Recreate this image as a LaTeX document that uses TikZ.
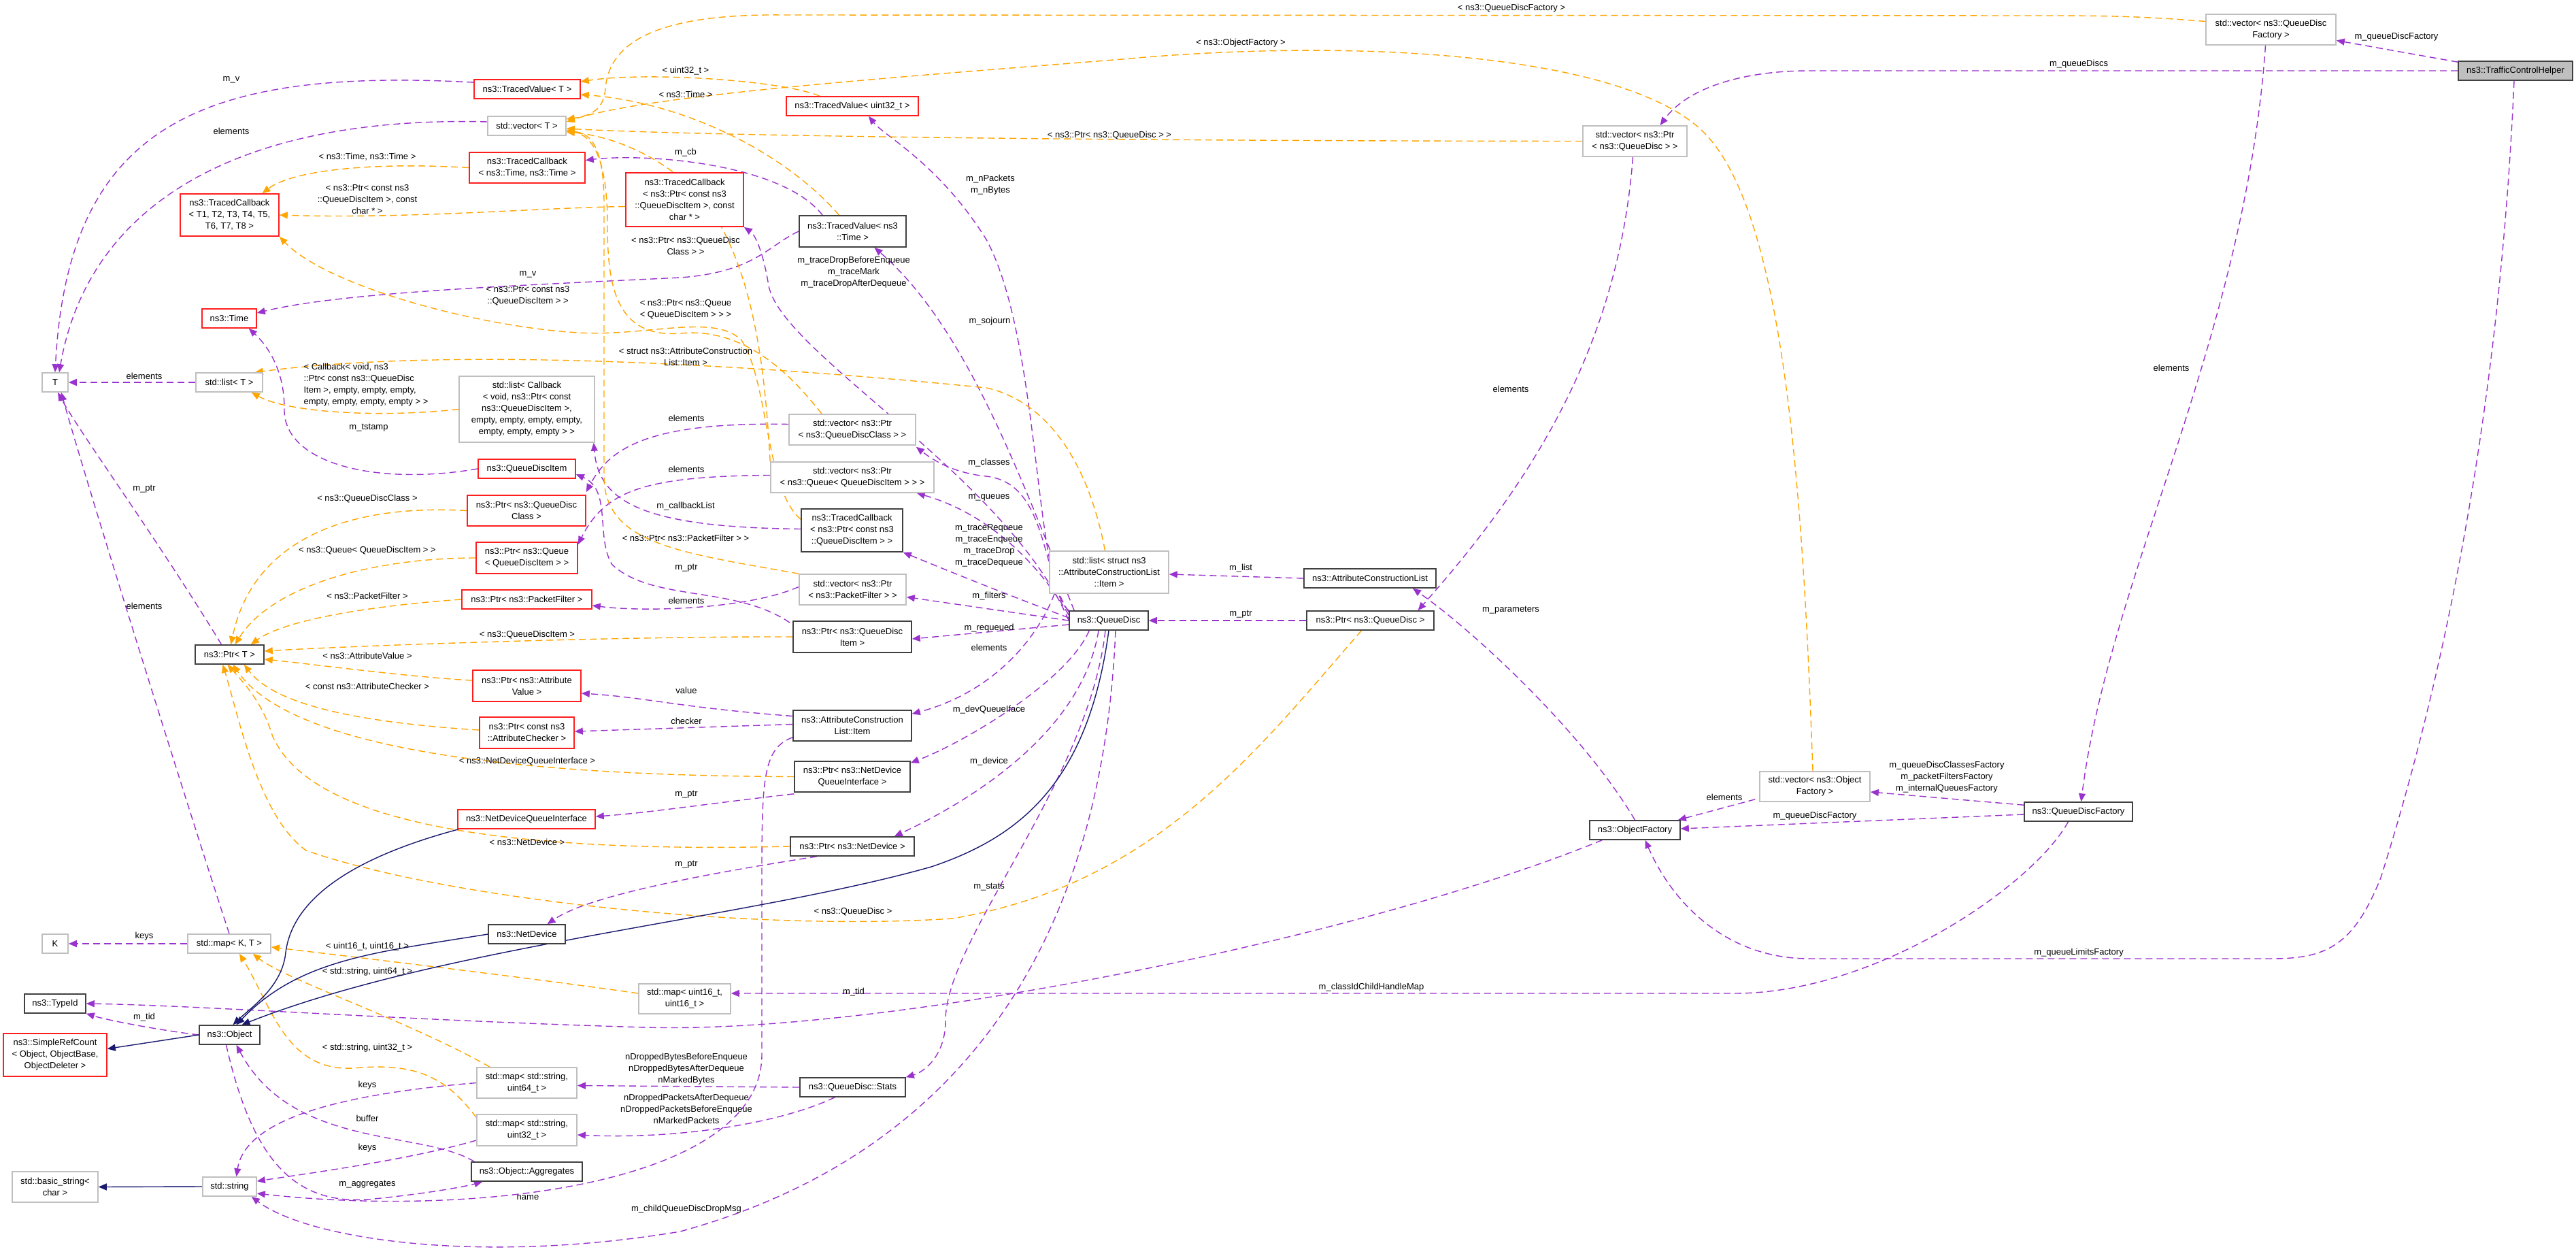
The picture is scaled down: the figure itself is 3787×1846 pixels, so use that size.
\documentclass[tikz,border=0pt]{standalone}
\usepackage{fontspec}
\setmainfont{Liberation Sans}
\usetikzlibrary{arrows.meta, calc, backgrounds}
\definecolor{edgepurple}{RGB}{154,50,205}
\definecolor{edgeorange}{RGB}{255,165,0}
\definecolor{edgeblue}{RGB}{25,25,112}
\definecolor{boxred}{RGB}{255,30,30}
\definecolor{boxgray}{RGB}{191,191,191}
\definecolor{boxdark}{RGB}{64,64,64}

\begin{document}
\begin{tikzpicture}[
    x=0.5pt, y=-0.5pt,
    every node/.style={font=\fontsize{6.5}{8.5}\selectfont},
    sz/.style 2 args={minimum width=#1*0.5pt, minimum height=#2*0.5pt},
    cls/.style={rectangle, draw=boxdark, line width=0.8pt, fill=white, align=center, inner sep=1pt},
    redcls/.style={cls, draw=boxred},
    extcls/.style={cls, draw=boxgray},
    maincls/.style={cls, draw=boxdark, fill=boxgray},
    lbl/.style={align=center, inner sep=0pt},
    usage/.style={-{Triangle[length=6pt,width=5pt]}, edgepurple, line width=0.7pt, dash pattern=on 5pt off 3pt},
    tmpl/.style={-{Triangle[length=6pt,width=5pt]}, edgeorange, line width=0.7pt, dash pattern=on 5pt off 3pt},
    inherit/.style={-{Triangle[length=6pt,width=5pt]}, edgeblue, line width=0.7pt}
]
\path[use as bounding box] (0,0) rectangle (3787,1846);

% Templates and basic types
\node[redcls, sz={156}{28}] (tvT) at (775,131) {ns3::TracedValue< T >};
\node[extcls, sz={115}{28}] (vecT) at (774.5,185) {std::vector< T >};
\node[redcls, sz={170}{45}] (tcTime) at (775,246.5) {ns3::TracedCallback\\< ns3::Time, ns3::Time >};
\node[redcls, sz={145}{62}] (tcT) at (337.5,316) {ns3::TracedCallback\\< T1, T2, T3, T4, T5,\\T6, T7, T8 >};
\node[redcls, sz={80}{28}] (time) at (337,468) {ns3::Time};
\node[extcls, sz={38}{28}] (tT) at (81,562) {T};
\node[extcls, sz={98}{28}] (listT) at (337,562) {std::list< T >};
\node[extcls, sz={199}{97}] (listCb) at (774.5,601.5) {std::list< Callback\\< void, ns3::Ptr< const\\ns3::QueueDiscItem >,\\empty, empty, empty, empty,\\empty, empty, empty > >};
\node[extcls, sz={101}{28}, draw=boxdark] (ptrT) at (337.5,962) {ns3::Ptr< T >};

% Pointer instances
\node[redcls, sz={143}{28}] (qdItem) at (774.5,689) {ns3::QueueDiscItem};
\node[redcls, sz={174}{45}] (ptrClass) at (774,750.5) {ns3::Ptr< ns3::QueueDisc\\Class >};
\node[redcls, sz={149}{46}] (ptrQueue) at (774.5,820) {ns3::Ptr< ns3::Queue\\< QueueDiscItem > >};
\node[redcls, sz={191}{28}] (ptrFilter) at (774.5,881) {ns3::Ptr< ns3::PacketFilter >};
\node[redcls, sz={159}{46}] (ptrAv) at (774.5,1008) {ns3::Ptr< ns3::Attribute\\Value >};
\node[redcls, sz={139}{46}] (ptrAc) at (774.5,1077) {ns3::Ptr< const ns3\\::AttributeChecker >};
\node[redcls, sz={202}{28}] (ndqi) at (774,1204) {ns3::NetDeviceQueueInterface};
\node[cls, sz={113}{28}] (nd) at (774.5,1373) {ns3::NetDevice};

% Object side
\node[extcls, sz={38}{28}] (kK) at (81,1387) {K};
\node[extcls, sz={122}{28}] (mapKT) at (337,1387) {std::map< K, T >};
\node[cls, sz={90}{28}] (tid) at (81,1475) {ns3::TypeId};
\node[cls, sz={89}{28}] (obj) at (337.5,1521) {ns3::Object};
\node[redcls, sz={152}{63}] (src) at (81,1550.5) {ns3::SimpleRefCount\\< Object, ObjectBase,\\ObjectDeleter >};
\node[extcls, sz={126}{45}] (bstr) at (81,1744.5) {std::basic\_string<\\char >};
\node[extcls, sz={79}{28}] (str) at (337.5,1744) {std::string};
\node[extcls, sz={135}{44}] (map16) at (1006.5,1468) {std::map< uint16\_t,\\uint16\_t >};
\node[extcls, sz={147}{45}] (map64) at (774.5,1591.5) {std::map< std::string,\\uint64\_t >};
\node[extcls, sz={147}{46}] (map32) at (774.5,1661) {std::map< std::string,\\uint32\_t >};
\node[cls, sz={163}{28}] (aggr) at (774.5,1722) {ns3::Object::Aggregates};

% QueueDisc members
\node[redcls, sz={173}{79}] (tcQdiChar) at (1006.5,293.5) {ns3::TracedCallback\\< ns3::Ptr< const ns3\\::QueueDiscItem >, const\\char * >};
\node[redcls, sz={194}{28}] (tvU32) at (1253,156) {ns3::TracedValue< uint32\_t >};
\node[cls, sz={157}{46}] (tvTime) at (1253.5,340) {ns3::TracedValue< ns3\\::Time >};
\node[extcls, sz={186}{45}] (vecClass) at (1253,631.5) {std::vector< ns3::Ptr\\< ns3::QueueDiscClass > >};
\node[extcls, sz={240}{45}] (vecQueue) at (1253,701.5) {std::vector< ns3::Ptr\\< ns3::Queue< QueueDiscItem > > >};
\node[cls, sz={149}{63}] (tcQdi) at (1252.5,779.5) {ns3::TracedCallback\\< ns3::Ptr< const ns3\\::QueueDiscItem > >};
\node[extcls, sz={157}{45}] (vecFilter) at (1253.5,866.5) {std::vector< ns3::Ptr\\< ns3::PacketFilter > >};
\node[cls, sz={174}{46}] (ptrQdi) at (1253,936) {ns3::Ptr< ns3::QueueDisc\\Item >};
\node[cls, sz={174}{45}] (acItem) at (1253,1066.5) {ns3::AttributeConstruction\\List::Item};
\node[cls, sz={170}{45}] (ptrNdqi) at (1253,1141.5) {ns3::Ptr< ns3::NetDevice\\QueueInterface >};
\node[cls, sz={182}{28}] (ptrNd) at (1253,1244) {ns3::Ptr< ns3::NetDevice >};
\node[cls, sz={155}{28}] (stats) at (1253.5,1598) {ns3::QueueDisc::Stats};
\node[cls, sz={116}{28}] (qdisc) at (1630,912) {ns3::QueueDisc};
\node[extcls, sz={175}{62}] (listItem) at (1630.5,841) {std::list< struct ns3\\::AttributeConstructionList\\::Item >};

% Helper side
\node[cls, sz={194}{28}] (acList) at (2014,850) {ns3::AttributeConstructionList};
\node[cls, sz={187}{28}] (ptrQd) at (2014.5,912) {ns3::Ptr< ns3::QueueDisc >};
\node[extcls, sz={153}{45}] (vecQd) at (2403.5,207.5) {std::vector< ns3::Ptr\\< ns3::QueueDisc > >};
\node[extcls, sz={191}{45}] (vecQdf) at (3338.5,43.5) {std::vector< ns3::QueueDisc\\Factory >};
\node[maincls, sz={168}{28}] (tch) at (3698,104) {ns3::TrafficControlHelper};
\node[cls, sz={133}{28}] (objf) at (2403.5,1220) {ns3::ObjectFactory};
\node[extcls, sz={162}{44}] (vecObjf) at (2668,1156) {std::vector< ns3::Object\\Factory >};
\node[cls, sz={159}{28}] (qdf) at (3055.5,1193) {ns3::QueueDiscFactory};

% Labels
\node[lbl] (l1) at (340,117) {m\_v};
\node[lbl] (l2) at (340,193) {elements};
\node[lbl] (l3) at (540,231) {< ns3::Time, ns3::Time >};
\node[lbl] (l4) at (540,293) {< ns3::Ptr< const ns3\\::QueueDiscItem >, const\\char * >};
\node[lbl] (l5) at (776,403) {m\_v};
\node[lbl] (l6) at (776,435) {< ns3::Ptr< const ns3\\::QueueDiscItem > >};
\node[lbl, align=left] (l7) at (538,566) {< Callback< void, ns3\\::Ptr< const ns3::QueueDisc\\Item >, empty, empty, empty,\\ empty, empty, empty, empty > >};
\node[lbl] (l8) at (212,553) {elements};
\node[lbl] (l9) at (542,629) {m\_tstamp};
\node[lbl] (l10) at (212,719) {m\_ptr};
\node[lbl] (l11) at (212,891) {elements};
\node[lbl] (l12) at (540,733) {< ns3::QueueDiscClass >};
\node[lbl] (l13) at (540,809) {< ns3::Queue< QueueDiscItem > >};
\node[lbl] (l14) at (540,876) {< ns3::PacketFilter >};
\node[lbl] (l15) at (775,933) {< ns3::QueueDiscItem >};
\node[lbl] (l16) at (540,964) {< ns3::AttributeValue >};
\node[lbl] (l17) at (540,1009) {< const ns3::AttributeChecker >};
\node[lbl] (l18) at (775,1119) {< ns3::NetDeviceQueueInterface >};
\node[lbl] (l19) at (775,1238) {< ns3::NetDevice >};
\node[lbl] (l20) at (1008,104) {< uint32\_t >};
\node[lbl] (l21) at (1008,139) {< ns3::Time >};
\node[lbl] (l22) at (1008,224) {m\_cb};
\node[lbl] (l23) at (1008,361) {< ns3::Ptr< ns3::QueueDisc\\Class > >};
\node[lbl] (l24) at (1008,455) {< ns3::Ptr< ns3::Queue\\< QueueDiscItem > > >};
\node[lbl] (l25) at (1008,524) {< struct ns3::AttributeConstruction\\List::Item >};
\node[lbl] (l26) at (1456,272) {m\_nPackets\\m\_nBytes};
\node[lbl] (l27) at (1255,400) {m\_traceDropBeforeEnqueue\\m\_traceMark\\m\_traceDropAfterDequeue};
\node[lbl] (l28) at (1455,472) {m\_sojourn};
\node[lbl] (l29) at (1009,615) {elements};
\node[lbl] (l30) at (1009,690) {elements};
\node[lbl] (l31) at (1008,744) {m\_callbackList};
\node[lbl] (l32) at (1008,791) {< ns3::Ptr< ns3::PacketFilter > >};
\node[lbl] (l33) at (1009,835) {m\_ptr};
\node[lbl] (l34) at (1009,883) {elements};
\node[lbl] (l35) at (1009,1015) {value};
\node[lbl] (l36) at (1009,1060) {checker};
\node[lbl] (l37) at (1009,1168) {m\_ptr};
\node[lbl] (l38) at (1454,680) {m\_classes};
\node[lbl] (l39) at (1454,731) {m\_queues};
\node[lbl] (l40) at (1454,802) {m\_traceRequeue\\m\_traceEnqueue\\m\_traceDrop\\m\_traceDequeue};
\node[lbl] (l41) at (1454,876) {m\_filters};
\node[lbl] (l42) at (1454,923) {m\_requeued};
\node[lbl] (l43) at (1454,952) {elements};
\node[lbl] (l44) at (1454,1043) {m\_devQueueIface};
\node[lbl] (l45) at (1454,1119) {m\_device};
\node[lbl] (l46) at (1009,1271) {m\_ptr};
\node[lbl] (l47) at (1454,1304) {m\_stats};
\node[lbl] (l48) at (1254,1340) {< ns3::QueueDisc >};
\node[lbl] (l49) at (1255,1458) {m\_tid};
\node[lbl] (l50) at (1009,1571) {nDroppedBytesBeforeEnqueue\\nDroppedBytesAfterDequeue\\nMarkedBytes};
\node[lbl] (l51) at (1009,1630) {nDroppedPacketsAfterDequeue\\nDroppedPacketsBeforeEnqueue\\nMarkedPackets};
\node[lbl] (l52) at (1009,1777) {m\_childQueueDiscDropMsg};
\node[lbl] (l53) at (212,1376) {keys};
\node[lbl] (l54) at (540,1391) {< uint16\_t, uint16\_t >};
\node[lbl] (l55) at (540,1428) {< std::string, uint64\_t >};
\node[lbl] (l56) at (212,1495) {m\_tid};
\node[lbl] (l57) at (540,1540) {< std::string, uint32\_t >};
\node[lbl] (l58) at (540,1595) {keys};
\node[lbl] (l59) at (540,1644) {buffer};
\node[lbl] (l60) at (540,1687) {keys};
\node[lbl] (l61) at (540,1741) {m\_aggregates};
\node[lbl] (l62) at (776,1760) {name};
\node[lbl] (l63) at (2222,12) {< ns3::QueueDiscFactory >};
\node[lbl] (l64) at (1824,63) {< ns3::ObjectFactory >};
\node[lbl] (l65) at (1631,199) {< ns3::Ptr< ns3::QueueDisc > >};
\node[lbl] (l66) at (2221,572) {elements};
\node[lbl] (l67) at (1824,835) {m\_list};
\node[lbl] (l68) at (1824,903) {m\_ptr};
\node[lbl] (l69) at (2221,897) {m\_parameters};
\node[lbl] (l70) at (2016,1451) {m\_classIdChildHandleMap};
\node[lbl] (l71) at (3056,94) {m\_queueDiscs};
\node[lbl] (l72) at (3523,54) {m\_queueDiscFactory};
\node[lbl] (l73) at (3192,541) {elements};
\node[lbl] (l74) at (2862,1142) {m\_queueDiscClassesFactory\\m\_packetFiltersFactory\\m\_internalQueuesFactory};
\node[lbl] (l75) at (2535,1172) {elements};
\node[lbl] (l76) at (2668,1199) {m\_queueDiscFactory};
\node[lbl] (l77) at (3056,1400) {m\_queueLimitsFactory};

\begin{scope}[on background layer]
\fill[white] (0,0) rectangle (3787,1846);

% Members (purple)
\draw[usage] ($(tvT.west)+(0,-10)$) .. controls (300,100) and (100,180) .. (tT.north);
\draw[usage] ($(vecT.west)+(0,-6)$) .. controls (350,170) and (130,300) .. ($(tT.north)+(6,0)$);
\draw[usage] (listT.west) -- (tT.east);
\draw[usage] ($(ptrT.north)+(-12,0)$) .. controls (230,790) and (120,640) .. ($(tT.south)+(4,0)$);
\draw[usage] (mapKT.north) .. controls (290,1230) and (130,720) .. ($(tT.south)+(9,0)$);
\draw[usage] (tvTime.west) .. controls (1130,360) and (1110,400) .. (1000,408) .. controls (750,420) and (500,430) .. ($(time.east)+(0,-8)$);
\draw[usage] (qdItem.west) .. controls (550,715) and (415,680) .. (418,600) .. controls (418,540) and (390,505) .. ($(time.south east)+(-12,0)$);
\draw[usage] ($(tvTime.north west)+(35,0)$) .. controls (1150,240) and (950,225) .. ($(tcTime.east)+(0,-11)$);
\draw[usage] (qdisc.north west) .. controls (1520,860) and (1530,500) .. (1450,352) .. controls (1380,240) and (1300,200) .. ($(tvU32.south)+(24,0)$);
\draw[usage] ($(qdisc.north west)+(8,0)$) .. controls (1500,700) and (1420,480) .. ($(tvTime.south)+(32,0)$);
\draw[usage] (qdisc.west) .. controls (1480,700) and (1150,520) .. (1130,420) .. controls (1122,370) and (1110,345) .. (tcQdiChar.south east);
\draw[usage] ($(qdisc.north west)+(0,2)$) .. controls (1530,840) and (1540,710) .. (1450,700) .. controls (1400,695) and (1370,675) .. ($(vecClass.south east)+(0,2)$);
\draw[usage] ($(qdisc.west)+(0,-8)$) .. controls (1540,850) and (1470,760) .. ($(vecQueue.south east)+(-26,0)$);
\draw[usage] ($(qdisc.west)+(0,-4)$) .. controls (1510,885) and (1420,850) .. (tcQdi.south east);
\draw[usage] (qdisc.west) -- ($(vecFilter.east)+(0,11)$);
\draw[usage] ($(qdisc.west)+(0,6)$) -- ($(ptrQdi.east)+(0,3)$);
\draw[usage] ($(listItem.south west)+(8,0)$) .. controls (1520,950) and (1450,1020) .. ($(acItem.north east)+(0,6)$);
\draw[usage] ($(qdisc.south west)+(30,0)$) .. controls (1570,1000) and (1420,1090) .. ($(ptrNdqi.north east)+(0,3)$);
\draw[usage] ($(qdisc.south)+(-15,0)$) .. controls (1590,1080) and (1420,1180) .. ($(ptrNd.north east)+(-30,0)$);
\draw[usage] ($(qdisc.south)+(-5,0)$) .. controls (1600,1150) and (1390,1380) .. (1390,1500) .. controls (1390,1550) and (1360,1575) .. (stats.north east);
\draw[usage] ($(qdisc.south)+(10,0)$) .. controls (1620,1400) and (1400,1700) .. (1000,1810) .. controls (700,1860) and (450,1820) .. ($(str.south east)+(-8,0)$);
\draw[usage] ($(acItem.south west)+(0,-6)$) .. controls (1120,1100) and (1120,1150) .. (1120,1300) -- (1120,1550) .. controls (1120,1740) and (700,1790) .. ($(str.east)+(0,10)$);
\draw[usage] (map64.west) .. controls (480,1610) and (360,1650) .. ($(str.north)+(10,0)$);
\draw[usage] ($(map32.west)+(0,15)$) .. controls (600,1705) and (450,1725) .. ($(str.east)+(0,-8)$);
\draw[usage] ($(aggr.north west)+(5,0)$) .. controls (620,1660) and (430,1690) .. ($(obj.south)+(10,0)$);
\draw[usage] ($(obj.south)+(-5,0)$) .. controls (370,1700) and (430,1775) .. (550,1762) .. controls (620,1755) and (680,1745) .. ($(aggr.south west)+(17,0)$);
\draw[usage] (obj.west) .. controls (240,1515) and (160,1500) .. (tid.south east);
\draw[usage] ($(objf.south west)+(19,0)$) .. controls (2000,1380) and (1300,1520) .. (950,1510) .. controls (600,1500) and (300,1478) .. (tid.east);
\draw[usage] (acList.west) -- ($(listItem.east)+(0,3)$);
\draw[usage] (ptrQd.west) -- (qdisc.east);
\draw[usage] (objf.north) .. controls (2330,1080) and (2170,930) .. ($(acList.south)+(63,0)$);
\draw[usage] ($(vecQd.south)+(-3,0)$) .. controls (2380,500) and (2260,700) .. ($(ptrQd.north)+(70,0)$);
\draw[usage] (tch.west) -- (2660,104) .. controls (2560,104) and (2480,130) .. ($(vecQd.north)+(37,0)$);
\draw[usage] ($(tch.north west)+(0,2)$) -- ($(vecQdf.east)+(0,16)$);
\draw[usage] ($(vecQdf.south)+(-8,0)$) .. controls (3300,500) and (3100,850) .. ($(qdf.north)+(4,0)$);
\draw[usage] ($(tch.south)+(-2,0)$) .. controls (3670,700) and (3560,1100) .. (3500,1290) .. controls (3460,1390) and (3420,1409) .. (3340,1409) -- (2660,1409) .. controls (2540,1409) and (2460,1330) .. ($(objf.south)+(15,0)$);
\draw[usage] ($(vecObjf.south west)+(-6,-4)$) -- ($(objf.north east)+(-4,0)$);
\draw[usage] ($(qdf.west)+(0,4)$) -- ($(objf.east)+(0,-2)$);
\draw[usage] ($(qdf.north west)+(0,5)$) -- ($(vecObjf.east)+(0,8)$);
\draw[usage] ($(qdf.south)+(-15,0)$) .. controls (2990,1300) and (2760,1460) .. (2550,1460) -- ($(map16.east)+(0,-8)$);
\draw[usage] ($(vecClass.west)+(0,-8)$) .. controls (950,620) and (895,660) .. ($(ptrClass.north east)+(0,-4)$);
\draw[usage] ($(vecQueue.west)+(0,-3)$) .. controls (950,700) and (890,720) .. ($(ptrQueue.north east)+(0,4)$);
\draw[usage] ($(vecFilter.west)+(0,-4)$) .. controls (1100,895) and (950,900) .. ($(ptrFilter.east)+(0,9)$);
\draw[usage] ($(ptrQdi.north west)+(-4,3)$) .. controls (1080,860) and (960,885) .. (900,830) .. controls (875,790) and (900,720) .. ($(qdItem.east)+(0,8)$);
\draw[usage] ($(tcQdi.west)+(0,-2)$) .. controls (950,775) and (880,740) .. ($(listCb.south east)+(-2,0)$);
\draw[usage] ($(acItem.west)+(0,-14)$) .. controls (1000,1040) and (950,1025) .. ($(ptrAv.east)+(0,11)$);
\draw[usage] ($(acItem.west)+(0,-2)$) -- ($(ptrAc.east)+(0,-2)$);
\draw[usage] ($(ptrNdqi.south west)+(0,2)$) .. controls (1050,1180) and (950,1195) .. ($(ndqi.east)+(0,-4)$);
\draw[usage] ($(ptrNd.south)+(-52,0)$) .. controls (1000,1290) and (860,1320) .. ($(nd.north)+(30,0)$);
\draw[usage] (mapKT.west) -- (kK.east);
\draw[usage] (stats.west) -- ($(map64.east)+(0,4)$);
\draw[usage] ($(stats.south west)+(52,0)$) .. controls (1150,1650) and (1000,1675) .. ($(map32.east)+(0,7)$);

% Template instances (orange)
\draw[tmpl] ($(tvU32.north west)+(50,0)$) .. controls (1150,118) and (950,105) .. ($(tvT.east)+(0,-11)$);
\draw[tmpl] ($(tvTime.north)+(-20,0)$) .. controls (1150,220) and (1000,150) .. ($(tvT.east)+(0,8)$);
\draw[tmpl] (vecQd.west) .. controls (1500,207) and (1000,198) .. ($(vecT.east)+(0,4)$);
\draw[tmpl] ($(vecQdf.west)+(0,-12)$) .. controls (3150,24) and (3100,23) .. (3000,23) -- (1150,22) .. controls (950,20) and (895,70) .. (890,130) .. controls (888,160) and (870,170) .. ($(vecT.east)+(0,-10)$);
\draw[tmpl] ($(vecObjf.north)+(-3,0)$) .. controls (2650,700) and (2620,300) .. (2500,190) .. controls (2380,80) and (2000,55) .. (1650,87) .. controls (1300,115) and (950,140) .. ($(vecT.east)+(0,-6)$);
\draw[tmpl] ($(vecClass.north)+(-45,0)$) .. controls (1170,560) and (1100,480) .. (1000,490) .. controls (905,497) and (893,420) .. (893,330) .. controls (893,230) and (870,200) .. ($(vecT.east)+(0,6)$);
\draw[tmpl] (vecQueue.north west) .. controls (1125,550) and (1110,400) .. (1040,300) .. controls (980,230) and (900,200) .. ($(vecT.east)+(0,9)$);
\draw[tmpl] (vecFilter.north west) .. controls (1000,812) and (888,800) .. (888,700) -- (888,300) .. controls (888,220) and (870,195) .. ($(vecT.east)+(0,8)$);
\draw[tmpl] (tcTime.west) .. controls (550,238) and (430,250) .. ($(tcT.north)+(48,0)$);
\draw[tmpl] ($(tcQdiChar.west)+(0,10)$) .. controls (800,305) and (600,322) .. (tcT.east);
\draw[tmpl] ($(tcQdi.north west)+(0,16)$) .. controls (1125,720) and (1130,560) .. (1090,500) .. controls (1050,460) and (950,495) .. (850,489) .. controls (700,480) and (480,420) .. (tcT.south east);
\draw[tmpl] (listCb.west) .. controls (550,615) and (420,605) .. ($(listT.south east)+(-17,0)$);
\draw[tmpl] ($(listItem.north)+(-6,0)$) .. controls (1600,680) and (1540,590) .. (1450,570) .. controls (1200,545) and (700,505) .. ($(listT.north east)+(-12,0)$);
\draw[tmpl] (ptrClass.west) .. controls (500,740) and (370,800) .. ($(ptrT.north)+(2,0)$);
\draw[tmpl] (ptrQueue.west) .. controls (550,820) and (400,860) .. ($(ptrT.north)+(8,0)$);
\draw[tmpl] (ptrFilter.west) .. controls (550,890) and (420,910) .. ($(ptrT.north east)+(-20,0)$);
\draw[tmpl] (ptrQdi.west) .. controls (900,935) and (500,950) .. ($(ptrT.east)+(0,-5)$);
\draw[tmpl] ($(ptrAv.west)+(0,-8)$) .. controls (600,995) and (450,975) .. ($(ptrT.east)+(0,7)$);
\draw[tmpl] ($(ptrAc.west)+(0,-4)$) .. controls (500,1060) and (400,1030) .. ($(ptrT.south east)+(-30,0)$);
\draw[tmpl] (ptrNdqi.west) .. controls (700,1140) and (420,1090) .. ($(ptrT.south)+(5,0)$);
\draw[tmpl] (ptrNd.west) .. controls (700,1255) and (450,1200) .. (400,1080) .. controls (385,1030) and (355,1000) .. ($(ptrT.south)+(-3,0)$);
\draw[tmpl] ($(ptrQd.south)+(-13,0)$) .. controls (1850,1100) and (1700,1300) .. (1400,1350) .. controls (1100,1370) and (650,1320) .. (450,1250) .. controls (380,1200) and (350,1050) .. ($(ptrT.south)+(-10,0)$);
\draw[tmpl] ($(map16.west)+(0,-8)$) .. controls (800,1440) and (550,1410) .. ($(mapKT.east)+(0,5)$);
\draw[tmpl] ($(map64.north west)+(20,0)$) .. controls (600,1500) and (420,1440) .. ($(mapKT.south east)+(-27,0)$);
\draw[tmpl] ($(map32.north west)+(0,5)$) .. controls (660,1590) and (620,1560) .. (520,1570) .. controls (420,1575) and (400,1480) .. ($(mapKT.south)+(15,0)$);

% Inheritance (blue)
\draw[inherit] ($(ndqi.south west)+(2,0)$) .. controls (520,1260) and (430,1320) .. (420,1400) .. controls (415,1450) and (370,1480) .. ($(obj.north)+(5,0)$);
\draw[inherit] (nd.west) .. controls (550,1400) and (440,1410) .. ($(obj.north)+(10,0)$);
\draw[inherit] (qdisc.south) .. controls (1600,1150) and (1500,1230) .. (1369,1274) .. controls (1100,1350) and (650,1390) .. ($(obj.north)+(18,0)$);
\draw[inherit] (obj.west) -- ($(src.east)+(0,-9)$);
\draw[inherit] (str.west) -- (bstr.east);
\end{scope}

\end{tikzpicture}
\end{document}
